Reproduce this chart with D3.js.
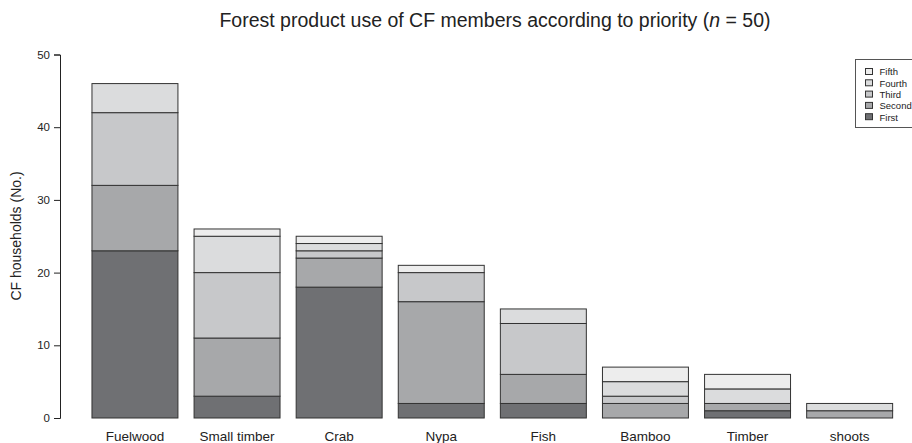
<!DOCTYPE html>
<html><head><meta charset="utf-8">
<script src="https://cdn.jsdelivr.net/npm/d3@7"></script>
<style>body{margin:0;background:#fff}svg{display:block;font-family:"Liberation Sans",Arial,sans-serif}</style>
</head><body><svg id="c" width="912" height="443"></svg>
<script>
const categories = ["Fuelwood","Small timber","Crab","Nypa","Fish","Bamboo","Timber","shoots"];
const priorities = ["First","Second","Third","Fourth","Fifth"];
const first  = [23, 3, 18, 2, 2, 0, 1, 0];
const second = [ 9, 8,  4,14, 4, 2, 1, 1];
const third  = [10, 9,  1, 4, 7, 1, 0, 0];
const fourth = [ 4, 5,  1, 0, 2, 2, 2, 1];
const fifth  = [ 0, 1,  1, 1, 0, 2, 2, 0];
const yTicks = [0,10,20,30,40,50];
const colors = ["#6f7073","#a7a8aa","#c7c8ca","#dbdcdd","#ededed"];

const series = [first, second, third, fourth, fifth];
const rows = categories.map((c,i)=>{const o={cat:c}; priorities.forEach((p,k)=>o[p]=series[k][i]); return o;});
const stack = d3.stack().keys(priorities)(rows);

const svg = d3.select("#c");
const x = d3.scaleBand().domain(categories).range([83.9,900.7]).paddingInner(0.158).paddingOuter(0.079);
const y = d3.scaleLinear().domain([0,50]).range([418,54.5]);

svg.append("text").attr("x",495).attr("y",27).attr("text-anchor","middle").attr("font-size",19.5).attr("fill","#222")
  .html('Forest product use of CF members according to priority (<tspan font-style="italic">n</tspan> = 50)');

const yAxis = svg.append("g").attr("transform","translate(60,0)")
  .call(d3.axisLeft(y).tickValues(yTicks).tickSize(6).tickPadding(4));
yAxis.select(".domain").attr("stroke","#222");
yAxis.selectAll(".tick line").attr("stroke","#222");
yAxis.selectAll(".tick text").attr("font-size",11.5).attr("fill","#222").attr("font-family","Liberation Sans, Arial, sans-serif");

svg.append("text").attr("transform","translate(21,236) rotate(-90)").attr("text-anchor","middle")
  .attr("font-size",14).attr("fill","#222").text("CF households (No.)");

const g = svg.append("g");
stack.forEach((s,k)=>{
  g.selectAll(null).data(s).enter().append("rect")
    .attr("x",d=>x(d.data.cat)).attr("width",x.bandwidth())
    .attr("y",d=>y(d[1])).attr("height",d=>y(d[0])-y(d[1]))
    .attr("fill",colors[k]).attr("stroke","#333").attr("stroke-width",1);
});

svg.append("g").selectAll("text").data(categories).enter().append("text")
  .attr("x",d=>x(d)+x.bandwidth()/2).attr("y",441).attr("text-anchor","middle")
  .attr("font-size",13.5).attr("fill","#222").text(d=>d);

const lg = svg.append("g");
lg.append("rect").attr("x",855.5).attr("y",59.5).attr("width",70).attr("height",68).attr("fill","#fff").attr("stroke","#555");
const legendOrder = priorities.slice().reverse();
legendOrder.forEach((p,i)=>{
  const k = priorities.indexOf(p);
  const yy = 72 + i*11.3;
  lg.append("rect").attr("x",865.5).attr("y",yy-3.5).attr("width",7).attr("height",6).attr("fill",colors[k]).attr("stroke","#333");
  lg.append("text").attr("x",879.5).attr("y",yy+3.3).attr("font-size",9.5).attr("fill","#222").text(p);
});
</script></body></html>
